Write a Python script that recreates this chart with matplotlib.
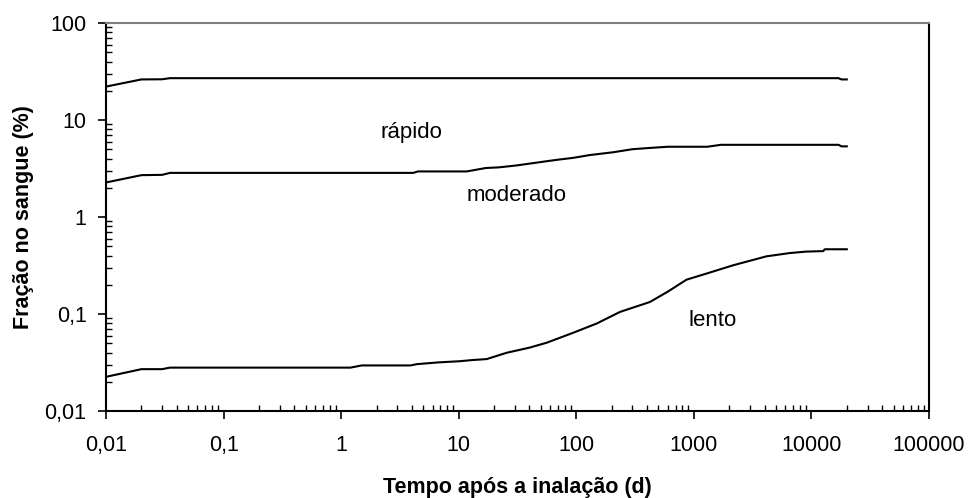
import matplotlib
matplotlib.use("Agg")
import matplotlib.pyplot as plt
from matplotlib.ticker import LogLocator, FuncFormatter, NullFormatter

plt.rcParams["font.family"] = ["Liberation Sans", "DejaVu Sans"]

# time after inhalation (d) and blood fraction (%) for each absorption type
rapido_t = [0.01, 0.02, 0.03, 0.035, 17000, 18000, 20000]
rapido = [22.1, 26.2, 26.3, 27.0, 27.0, 26.2, 26.2]

moderado_t = [0.01, 0.02, 0.03, 0.035, 4.1, 4.5, 11.7, 17, 22, 31, 40, 56, 70,
              94, 130, 206, 300, 420, 600, 1300, 1700, 17000, 18000, 20000]
moderado = [2.27, 2.7, 2.72, 2.85, 2.85, 2.95, 2.95, 3.2, 3.25, 3.4, 3.55, 3.76, 3.9,
            4.07, 4.35, 4.65, 5.0, 5.15, 5.3, 5.3, 5.55, 5.55, 5.35, 5.35]

lento_t = [0.01, 0.02, 0.03, 0.035, 1.2, 1.5, 3.9, 4.4, 6.7, 10.2, 13, 17.3, 25.5, 40,
           55.8, 94, 150, 235, 423, 600, 867, 1280, 2160, 4140, 6550, 9070, 12600,
           13000, 20000]
lento = [0.0225, 0.027, 0.027, 0.028, 0.028, 0.0295, 0.0295, 0.0304, 0.0317, 0.0326,
         0.0335, 0.0343, 0.0398, 0.045, 0.0505, 0.064, 0.08, 0.105, 0.133, 0.17, 0.226,
         0.261, 0.318, 0.393, 0.425, 0.44, 0.445, 0.465, 0.465]

x_ticks = [0.01, 0.1, 1, 10, 100, 1000, 10000, 100000]
y_ticks = [0.01, 0.1, 1, 10, 100]

labels = ["rápido", "moderado", "lento"]
label_pos = [(4.0, 7.4), (31, 1.67), (1450, 0.086)]


def fmt(v, _):
    if v < 1:
        return f"{v:g}".replace(".", ",")
    return f"{v:.0f}"


fig = plt.figure(figsize=(9.69, 4.98), dpi=100)
ax = fig.add_axes([0.1094, 0.1747, 0.8493, 0.7791])

for t, y in [(rapido_t, rapido), (moderado_t, moderado), (lento_t, lento)]:
    ax.plot(t, y, color="black", lw=1.5)

for name, (x, y) in zip(labels, label_pos):
    ax.text(x, y, name, fontsize=16, ha="center", va="center")

ax.set_xscale("log")
ax.set_yscale("log")
ax.set_xticks(x_ticks)
ax.set_yticks(y_ticks)
ax.set_xlim(0.01, 100000)
ax.set_ylim(0.01, 100)

for axis in (ax.xaxis, ax.yaxis):
    axis.set_minor_locator(LogLocator(base=10, subs=range(2, 10), numticks=20))
    axis.set_major_formatter(FuncFormatter(fmt))
    axis.set_minor_formatter(NullFormatter())

ax.tick_params(which="major", direction="out", length=6, width=1.2, labelsize=15.5)
ax.tick_params(axis="x", which="major", pad=11)
ax.tick_params(axis="y", which="major", pad=8)
ax.tick_params(which="minor", direction="in", length=4, width=1.0)

for side in ("left", "bottom", "right"):
    ax.spines[side].set_linewidth(1.5)
ax.spines["top"].set_color("#808080")
ax.spines["top"].set_linewidth(1.5)

ax.set_xlabel("Tempo após a inalação (d)", fontsize=15.5, fontweight="bold")
ax.set_ylabel("Fração no sangue (%)", fontsize=15.5, fontweight="bold")
ax.xaxis.set_label_coords(0.5, -0.17)
ax.yaxis.set_label_coords(-0.088, 0.5)

fig.savefig("out.png", dpi=100)
